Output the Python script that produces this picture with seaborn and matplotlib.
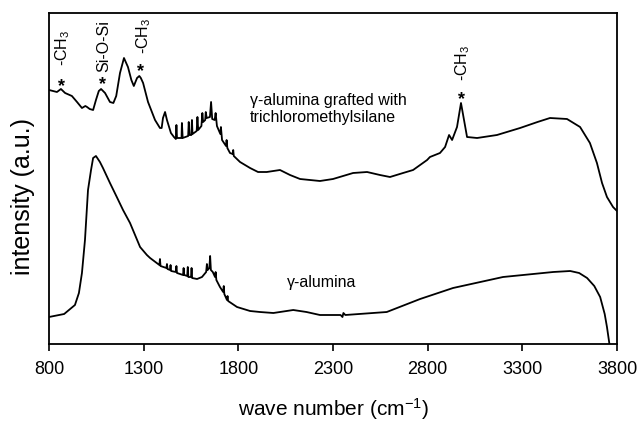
import matplotlib
matplotlib.use("Agg")
import matplotlib.pyplot as plt
import seaborn as sns
import pandas as pd

# ---- data ----
grafted_wn = [800, 842, 863, 885, 921, 948, 974, 992, 1001, 1015, 1033, 1048, 1063, 1075, 1096,
              1122, 1140, 1155, 1175, 1196, 1217, 1235, 1248, 1265, 1277, 1285, 1297, 1323, 1360,
              1386, 1395, 1402, 1413, 1423, 1444, 1460, 1470, 1473, 1476, 1500, 1502, 1506, 1535,
              1538, 1542, 1552, 1555, 1558, 1580, 1584, 1588, 1605, 1610, 1614, 1625, 1628, 1633,
              1650, 1656, 1662, 1675, 1680, 1687, 1705, 1708, 1714, 1735, 1738, 1742, 1756, 1770,
              1773, 1776, 1809, 1862, 1904, 1950, 2020, 2073, 2126, 2231, 2300, 2406, 2480, 2548,
              2601, 2670, 2723, 2797, 2812, 2865, 2892, 2913, 2929, 2955, 2976, 2992, 3008, 3061,
              3166, 3288, 3380, 3446, 3536, 3605, 3657, 3694, 3721, 3747, 3779, 3800]
grafted_int = [254, 252, 255, 251, 248, 242, 236, 238, 237, 235, 234, 244, 253, 255, 251,
               242, 241, 248, 271, 286, 277, 264, 258, 266, 268, 266, 261, 242, 224,
               216, 216, 226, 232, 224, 211, 207, 205, 219, 206, 206, 221, 206, 208,
               222, 209, 209, 224, 210, 213, 227, 214, 218, 231, 222, 224, 232, 226,
               227, 242, 225, 224, 231, 218, 210, 217, 204, 198, 204, 196, 191, 190,
               194, 188, 182, 176, 172, 172, 174, 169, 165, 163, 165, 171, 172, 169,
               167, 171, 174, 184, 187, 191, 197, 209, 204, 217, 241, 224, 207, 206,
               209, 216, 222, 226, 225, 217, 201, 181, 161, 147, 137, 133]

alumina_wn = [800, 880, 937, 958, 974, 990, 1006, 1022, 1033, 1048, 1069, 1085, 1122, 1158, 1191,
              1228, 1281, 1317, 1334,
              1383, 1386, 1389, 1420, 1423, 1426, 1439, 1442, 1445, 1470, 1473, 1476, 1508, 1511,
              1514, 1530, 1533, 1536, 1550, 1553, 1556, 1582, 1608, 1630, 1634, 1638, 1647, 1651,
              1655, 1665, 1677, 1680, 1684, 1703, 1720, 1723, 1726, 1740, 1743, 1746, 1793, 1862,
              1914, 1985, 2090, 2160, 2231, 2340, 2350, 2355, 2365, 2584, 2760, 2934, 3198, 3463,
              3553, 3600, 3642, 3680, 3711, 3735, 3747, 3760, 3765]
alumina_int = [27, 30, 39, 51, 71, 104, 154, 174, 186, 188, 182, 176, 161, 147, 134,
               121, 97, 89, 86,
               79, 85, 78, 76, 80, 75, 74, 79, 73, 72, 78, 71, 69, 76,
               69, 68, 77, 67, 67, 76, 66, 65, 67, 72, 80, 74, 76, 88,
               74, 72, 67, 72, 64, 57, 52, 58, 50, 44, 48, 43, 37, 33,
               32, 31, 34, 32, 29, 29, 27, 31, 29, 32, 45, 56, 67, 72,
               73, 71, 66, 58, 47, 30, 17, 0, -10]

x_ticks = [800, 1300, 1800, 2300, 2800, 3300, 3800]

# peak annotations: star position and rotated label position
ann_wn = [866, 1082, 1284, 2978]
ann_star = [257, 259, 272, 244]
ann_label_wn = [871, 1087, 1298, 2983]
ann_label_y = [278, 272, 290, 263]
ann_text = ["-CH$_3$", "Si-O-Si", "-CH$_3$", "-CH$_3$"]

# ---- plotting ----
sns.set_style("ticks")
plt.rcParams["font.family"] = ["Liberation Sans", "DejaVu Sans"]
plt.rcParams["mathtext.fontset"] = "custom"
plt.rcParams["mathtext.rm"] = "Liberation Sans"
plt.rcParams["mathtext.it"] = "Liberation Sans"
plt.rcParams["text.color"] = "black"
plt.rcParams["axes.labelcolor"] = "black"
plt.rcParams["xtick.color"] = "black"
plt.rcParams["ytick.color"] = "black"
plt.rcParams["axes.edgecolor"] = "black"

fig = plt.figure(figsize=(6.39, 4.22), dpi=100)
ax = fig.add_axes([49 / 639, 78 / 422, 568 / 639, 331 / 422])

df_g = pd.DataFrame({"wn": grafted_wn, "val": grafted_int})
df_a = pd.DataFrame({"wn": alumina_wn, "val": alumina_int})
sns.lineplot(data=df_g, x="wn", y="val", ax=ax, color="black", lw=1.3, sort=False, estimator=None)
sns.lineplot(data=df_a, x="wn", y="val", ax=ax, color="black", lw=1.3, sort=False, estimator=None)

ax.set_xlim(800, 3800)
ax.set_ylim(0, 331)
ax.set_xticks(x_ticks)
ax.set_xticklabels([str(t) for t in x_ticks], fontsize=13, color="black")
ax.set_yticks([])
ax.tick_params(axis="x", direction="out", length=5, width=1.2, pad=7, color="black",
               labelcolor="black")
for s in ax.spines.values():
    s.set_visible(True)
    s.set_linewidth(1.3)
    s.set_color("black")

ax.set_xlabel("wave number (cm$^{-1}$)", fontsize=15, labelpad=13, color="black")
ax.set_ylabel("intensity (a.u.)", fontsize=18, color="black")
ax.yaxis.set_label_coords(-0.025, 0.447)

for wn, sy, lwn, ly, t in zip(ann_wn, ann_star, ann_label_wn, ann_label_y, ann_text):
    ax.text(wn, sy, "*", fontsize=13, ha="center", va="center", fontweight="bold", color="black")
    ax.text(lwn, ly, t, fontsize=11.5, rotation=90, ha="center", va="bottom", color="black")

ax.text(1862, 235, "γ-alumina grafted with\ntrichloromethylsilane", fontsize=11.5,
        ha="left", va="center", linespacing=1.15, color="black")
ax.text(2057, 61, "γ-alumina", fontsize=11.5, ha="left", va="center", color="black")

fig.savefig("out.png", dpi=100)
